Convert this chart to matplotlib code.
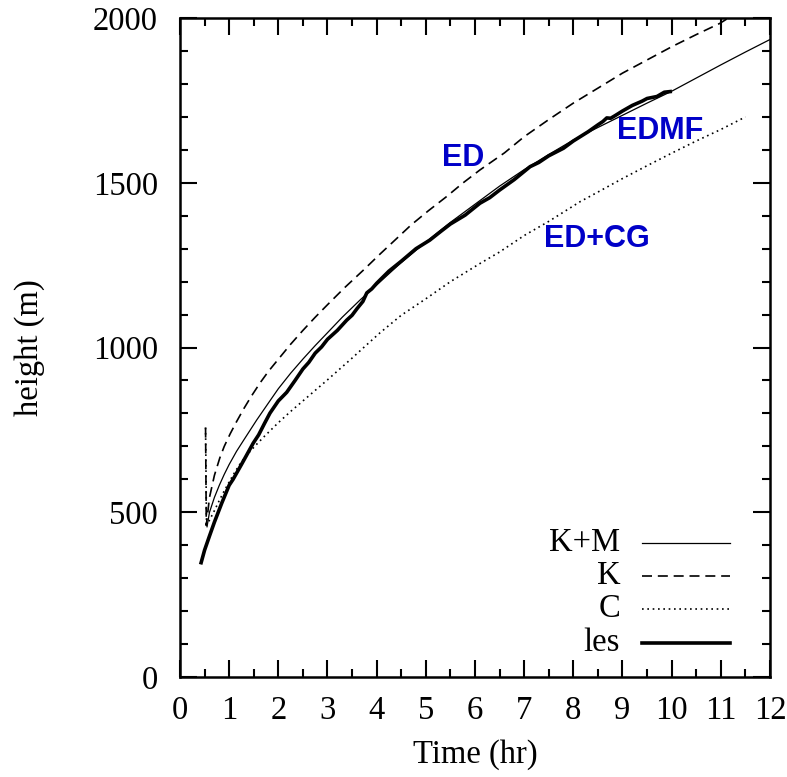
import numpy as np
import matplotlib
matplotlib.use("Agg")
from matplotlib import pyplot as plt

# values (time in hr, height in m)
km_t = [0.55, 0.6, 0.7, 0.8, 0.9, 1.0, 1.15, 1.3, 1.56, 1.8, 2.0, 2.25, 2.5, 2.75, 3.0, 3.3, 3.66, 4.0, 4.5,
        5.0, 5.5, 6.0, 6.5, 7.0, 7.5, 8.0, 8.5, 9.0, 9.5, 10.0, 10.5, 11.0, 11.5, 12.0]
km_h = [456, 500, 545, 582, 615, 645, 685, 720, 780, 832, 875, 922, 965, 1006, 1045, 1092, 1144, 1190, 1258,
        1320, 1380, 1435, 1490, 1540, 1586, 1630, 1668, 1705, 1742, 1778, 1818, 1858, 1897, 1935]

k_t = [0.52, 0.535, 0.6, 0.7, 0.81, 0.9, 1.02, 1.15, 1.3, 1.45, 1.63, 1.8, 2.03, 2.25, 2.5, 2.75, 3.0, 3.35,
       3.73, 4.07, 4.4, 4.7, 5.05, 5.42, 5.75, 6.1, 6.6, 7.0, 7.5, 8.0, 8.54, 9.0, 9.5, 10.0, 10.5, 10.98, 11.15]
k_h = [757, 460, 545, 612, 665, 700, 738, 775, 815, 852, 893, 928, 970, 1010, 1052, 1092, 1130, 1182,
       1235, 1284, 1330, 1372, 1415, 1458, 1499, 1539, 1591, 1640, 1692, 1742, 1791, 1833, 1873, 1913, 1950, 1984, 2000]

c_t = [0.52, 0.54, 0.6, 0.7, 0.8, 0.9, 1.0, 1.1, 1.2, 1.3, 1.42, 1.55, 1.7, 1.85, 2.0, 2.25, 2.5, 2.75, 3.0,
       3.25, 3.5, 3.75, 4.07, 4.5, 5.0, 5.5, 6.1, 6.5, 7.0, 7.5, 8.14, 8.5, 9.0, 9.5, 10.0, 10.5, 11.0, 11.5]
c_h = [757, 462, 476, 505, 536, 565, 592, 618, 642, 663, 684, 705, 728, 750, 772, 806, 838, 870, 902,
       935, 968, 1002, 1045, 1098, 1148, 1200, 1255, 1290, 1340, 1383, 1443, 1472, 1513, 1552, 1590, 1627, 1662, 1700]

les_t = [0.43, 0.5, 0.6, 0.7, 0.85, 1.0, 1.08, 1.25, 1.35, 1.49, 1.6, 1.72, 1.83, 2.0, 2.17, 2.34, 2.5, 2.62,
         2.75, 2.88, 3.0, 3.2, 3.39, 3.5, 3.6, 3.72, 3.8, 3.9, 4.0, 4.25, 4.5, 4.8, 5.08, 5.3, 5.5, 5.8, 6.1,
         6.3, 6.5, 6.8, 7.12, 7.3, 7.5, 7.8, 8.0, 8.3, 8.5, 8.6, 8.68, 8.76, 8.85, 9.0, 9.2, 9.4, 9.5, 9.7,
         9.85, 9.97]
les_h = [347, 385, 428, 470, 528, 582, 600, 645, 672, 710, 735, 770, 801, 838, 864, 900, 935, 955,
         983, 1002, 1025, 1052, 1083, 1098, 1118, 1140, 1166, 1178, 1195, 1232, 1262, 1300, 1326, 1352, 1375,
         1402, 1438, 1455, 1478, 1510, 1549, 1562, 1582, 1605, 1627, 1655, 1676, 1686, 1697, 1696, 1704, 1718,
         1735, 1748, 1756, 1762, 1775, 1777]

legend_labels = ["K+M", "K", "C", "les"]
annot_text = ["ED", "EDMF", "ED+CG"]
annot_x = [5.76, 9.76, 8.48]
annot_y = [1574, 1656, 1328]

plt.rcParams['font.family'] = ['Liberation Serif', 'DejaVu Serif']

fig = plt.figure(figsize=(7.87, 7.77), dpi=100)
ax = fig.add_axes([0.2287, 0.1287, 0.7497, 0.848])

styles = [
    dict(color='black', lw=0.9, ls='-'),
    dict(color='black', lw=1.2, ls=(0, (6, 3.5))),
    dict(color='black', lw=1.2, ls=(0, (1, 2.2))),
    dict(color='black', lw=2.6, ls='-'),
]

ax.plot(km_t, km_h, **styles[0])
ax.plot(k_t, k_h, **styles[1])
ax.plot(c_t, c_h, **styles[2])
ax.plot(les_t, les_h, **styles[3])

ax.set_xlim(0, 12)
ax.set_ylim(0, 2000)
ax.set_xticks(np.arange(0, 13, 1))
ax.set_xticks(np.arange(0, 12.01, 0.5), minor=True)
ax.set_yticks(np.arange(0, 2001, 500))
ax.set_yticks(np.arange(0, 2001, 100), minor=True)
ax.tick_params(which='both', direction='in', top=True, right=True, width=1.5, labelsize=23.5)
ax.tick_params(axis='x', pad=13)
ax.tick_params(axis='y', pad=16)
ax.tick_params(which='major', length=12)
ax.tick_params(which='minor', length=6)
for s in ax.spines.values():
    s.set_linewidth(1.8)

ax.set_xlabel("Time (hr)", fontsize=23.5, labelpad=10)
ax.set_ylabel("height (m)", fontsize=23.5, labelpad=34)

# gnuplot style key: label right-aligned, sample to the right
key_y = [0.203, 0.153, 0.103, 0.052]
for lab, st, yy in zip(legend_labels, styles, key_y):
    ax.text(0.746, yy, lab, transform=ax.transAxes, ha='right', va='center', fontsize=23.5)
    ax.plot([0.783, 0.932], [yy, yy], transform=ax.transAxes, **st)

for txt, x, y in zip(annot_text, annot_x, annot_y):
    ax.text(x, y, txt, ha='center', va='center', fontsize=22, fontweight='bold',
            color='#0000c8', family=['Liberation Sans', 'DejaVu Sans'])

fig.savefig("out.png", dpi=100)
